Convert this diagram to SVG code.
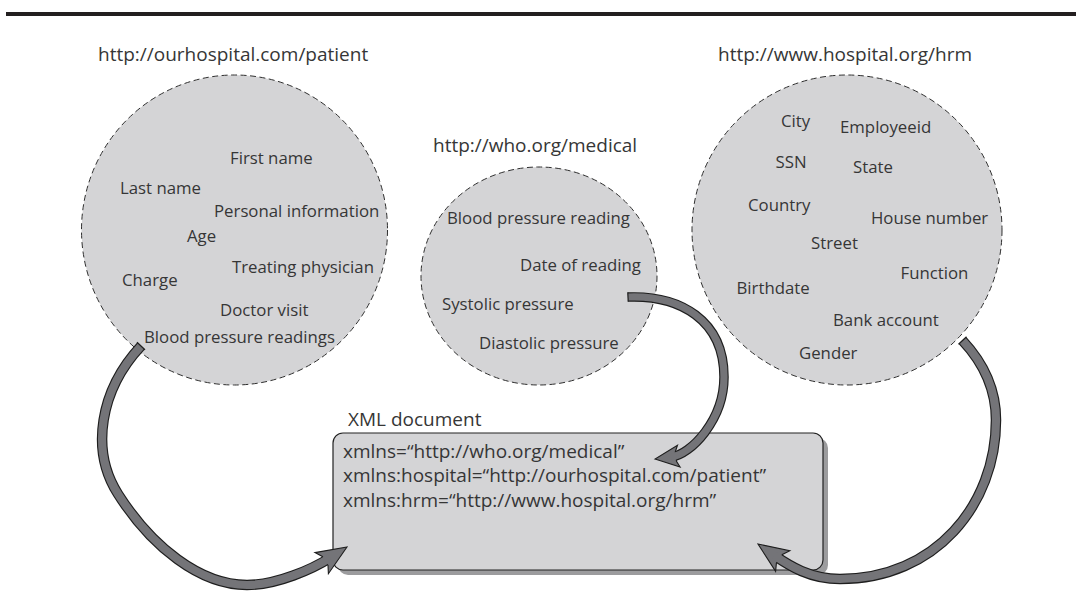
<svg xmlns="http://www.w3.org/2000/svg" width="1080" height="611" viewBox="0 0 1080 611">
  <style>
    .ns{fill:#d4d4d6;stroke:#2e2e2e;stroke-width:1;stroke-dasharray:6 3.5}
    .t{font-family:"Open Sans","DejaVu Sans",sans-serif;font-size:16.8px;fill:#363636}
    .h{font-size:19px}
    .doc{fill:#d4d4d6;stroke:#222;stroke-width:1.2}
    .shadow{fill:#9c9c9e}
    .edge{fill:none;stroke:#1e1e1e;stroke-width:10.5}
    .body{fill:none;stroke:#747478;stroke-width:8.2}
    .edge.thin{stroke-width:9.5}
    .body.thin{stroke-width:7.2}
    .head{fill:#747478;stroke:#1e1e1e;stroke-width:1.1;stroke-linejoin:miter}
    .cap{stroke:#1e1e1e;stroke-width:1.2}
  </style>

  <rect width="1080" height="611" fill="#fff"/>
  <!-- page rule -->
  <rect x="6" y="12" width="1070" height="4" fill="#231f20"/>

  <!-- namespace: patient -->
  <g id="ns-patient">
    <text class="t h" x="98" y="61">http://ourhospital.com/patient</text>
    <ellipse class="ns" cx="234.5" cy="230" rx="153" ry="155"/>
    <text class="t" x="230" y="164">First name</text>
    <text class="t" x="120" y="194">Last name</text>
    <text class="t" x="214" y="216.5">Personal information</text>
    <text class="t" x="187" y="241.5">Age</text>
    <text class="t" x="232" y="273">Treating physician</text>
    <text class="t" x="122" y="286">Charge</text>
    <text class="t" x="220" y="316">Doctor visit</text>
    <text class="t" x="144" y="342.5">Blood pressure readings</text>
  </g>

  <!-- namespace: medical -->
  <g id="ns-medical">
    <text class="t h" x="433" y="152">http://who.org/medical</text>
    <ellipse class="ns" cx="539" cy="276" rx="118" ry="109"/>
    <text class="t" x="447" y="224">Blood pressure reading</text>
    <text class="t" x="520" y="270.5">Date of reading</text>
    <text class="t" x="442" y="310">Systolic pressure</text>
    <text class="t" x="479" y="349">Diastolic pressure</text>
  </g>

  <!-- namespace: hrm -->
  <g id="ns-hrm">
    <text class="t h" x="718" y="61">http://www.hospital.org/hrm</text>
    <ellipse class="ns" cx="847" cy="230" rx="155" ry="155"/>
    <text class="t" x="781" y="126.5">City</text>
    <text class="t" x="840" y="132.5">Employeeid</text>
    <text class="t" x="775.5" y="167.5">SSN</text>
    <text class="t" x="853" y="172.5">State</text>
    <text class="t" x="748" y="210.5">Country</text>
    <text class="t" x="871" y="223.5">House number</text>
    <text class="t" x="811" y="248.5">Street</text>
    <text class="t" x="900.5" y="279">Function</text>
    <text class="t" x="736.5" y="294">Birthdate</text>
    <text class="t" x="833" y="326">Bank account</text>
    <text class="t" x="799" y="358.5">Gender</text>
  </g>

  <!-- XML document -->
  <g id="xml-doc">
    <text class="t h" x="348" y="426">XML document</text>
    <rect class="shadow" x="338" y="438" width="490" height="137" rx="10"/>
    <rect class="doc" x="333" y="433" width="490" height="137" rx="10"/>
    <text class="t h" x="343" y="457.5">xmlns=“http://who.org/medical”</text>
    <text class="t h" x="343" y="482">xmlns:hospital=“http://ourhospital.com/patient”</text>
    <text class="t h" x="343" y="506.5">xmlns:hrm=“http://www.hospital.org/hrm”</text>
  </g>

  <!-- connectors: thick curved arrows, outline stroke under a grey body -->
  <g id="connectors">
    <g id="arrow-patient">
      <path class="edge" d="M141,346 C100,390 90,450 118,494 C151.6,546.8 200,585 247,585 C277,585 313.2,568.6 330.1,557.8"/>
      <polygon class="head" points="347,547 328.4,573.7 328,565.5 322.3,556.5 315,552.6"/>
      <path class="body" d="M141,346 C100,390 90,450 118,494 C151.6,546.8 200,585 247,585 C277,585 313.2,568.6 330.1,557.8"/>
      <line class="cap" x1="145" y1="349.75" x2="137" y2="342.25"/>
    </g>
    <g id="arrow-medical">
      <path class="edge thin" d="M628,297 C680,295 724,320 724,377 C724,420 690.8,454.7 670.9,457.1"/>
      <polygon class="head" points="655,459 680.1,467 676.5,461.2 675.3,451.8 677.5,445.2"/>
      <path class="body thin" d="M628,297 C680,295 724,320 724,377 C724,420 690.8,454.7 670.9,457.1"/>
      <line class="cap" x1="628.2" y1="301.75" x2="627.8" y2="292.25"/>
    </g>
    <g id="arrow-hrm">
      <path class="edge" d="M962.5,340.5 C983,362.4 996,390 996,420 C996,505 935,579 840,579 C810,579 789.2,565.7 774.4,555.4"/>
      <polygon class="head" points="758,544 789.8,550.8 782.4,554.4 776.4,563.2 775.6,571.4"/>
      <path class="body" d="M962.5,340.5 C983,362.4 996,390 996,420 C996,505 935,579 840,579 C810,579 789.2,565.7 774.4,555.4"/>
      <line class="cap" x1="966.5" y1="336.7" x2="958.5" y2="344.3"/>
    </g>
  </g>
</svg>
